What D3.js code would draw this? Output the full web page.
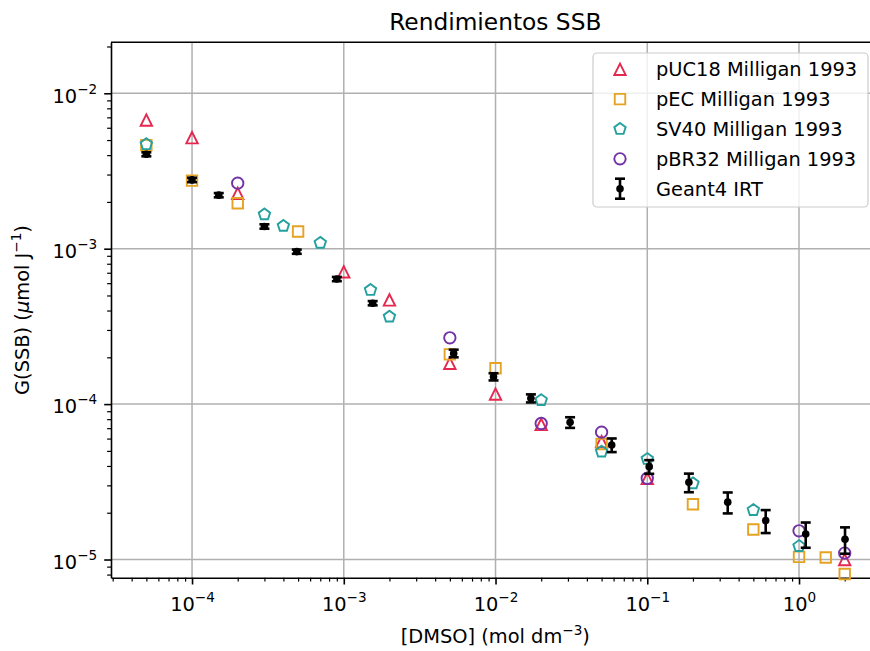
<!DOCTYPE html>
<html>
<head>
<meta charset="utf-8">
<script src="https://cdn.jsdelivr.net/npm/d3@7"></script>
<style>
  html, body { margin: 0; padding: 0; background: #fff; }
  svg text { font-family: "DejaVu Sans", sans-serif; fill: #000; }
</style>
</head>
<body>
<svg id="chart" width="870" height="651"></svg>
<script>
// ---------------- data ----------------
const pUC18X = [5e-5, 1e-4, 2e-4, 1e-3, 2e-3, 5e-3, 1e-2, 2e-2, 5e-2, 0.1, 2];
const pUC18Y = [6.73e-3, 5.18e-3, 2.27e-3, 7.1e-4, 4.68e-4, 1.83e-4, 1.16e-4, 7.4e-5, 5.73e-5, 3.33e-5, 1.0e-5];

const pECX = [5e-5, 1e-4, 2e-4, 5e-4, 5e-3, 1e-2, 5e-2, 0.2, 0.5, 1, 1.5, 2];
const pECY = [4.64e-3, 2.74e-3, 1.96e-3, 1.29e-3, 2.09e-4, 1.70e-4, 5.54e-5, 2.27e-5, 1.56e-5, 1.04e-5, 1.03e-5, 8.07e-6];

const sv40X = [5e-5, 3e-4, 4e-4, 7e-4, 1.5e-3, 2e-3, 2e-2, 5e-2, 0.1, 0.2, 0.5, 1];
const sv40Y = [4.7e-3, 1.66e-3, 1.40e-3, 1.09e-3, 5.42e-4, 3.65e-4, 1.06e-4, 4.94e-5, 4.43e-5, 3.09e-5, 2.08e-5, 1.22e-5];

const pBR32X = [2e-4, 5e-3, 2e-2, 5e-2, 0.1, 1, 2];
const pBR32Y = [2.64e-3, 2.67e-4, 7.5e-5, 6.6e-5, 3.33e-5, 1.53e-5, 1.10e-5];

const g4X = [5e-5, 1e-4, 1.5e-4, 3e-4, 4.9e-4, 9e-4, 1.55e-3, 5.3e-3, 9.7e-3, 1.71e-2, 3.1e-2, 5.83e-2, 0.103, 0.188, 0.339, 0.603, 1.107, 2.01];
const g4Y = [4.05e-3, 2.77e-3, 2.21e-3, 1.39e-3, 9.57e-4, 6.38e-4, 4.46e-4, 2.12e-4, 1.5e-4, 1.09e-4, 7.63e-5, 5.46e-5, 3.96e-5, 3.14e-5, 2.34e-5, 1.78e-5, 1.46e-5, 1.35e-5];
const g4Err = [1.2e-4, 0.9e-4, 0.7e-4, 0.45e-4, 0.3e-4, 0.2e-4, 0.14e-4, 0.12e-4, 0.08e-4, 0.065e-4, 0.6e-5, 0.55e-5, 0.4e-5, 0.43e-5, 0.36e-5, 0.3e-5, 0.27e-5, 0.26e-5];

const xMajorExp = [-4, -3, -2, -1, 0];
const yMajorExp = [-5, -4, -3, -2];
const xDomain = [Math.pow(10, -4.534), Math.pow(10, 0.531)];
const yDomain = [Math.pow(10, -5.117), Math.pow(10, -1.672)];

const legendLabels = ["pUC18 Milligan 1993", "pEC Milligan 1993", "SV40 Milligan 1993", "pBR32 Milligan 1993", "Geant4 IRT"];
const titleText = "Rendimientos SSB";

// ---------------- layout ----------------
const L = 111, R = 879.6, T = 42.3, B = 577.7;
const svg = d3.select("#chart");
const x = d3.scaleLog().domain(xDomain).range([L, R]);
const y = d3.scaleLog().domain(yDomain).range([B, T]);

const colors = { red: "#e5284f", orange: "#e5a324", teal: "#24a19f", purple: "#7232a4" };

function minorTicks(domain) {
  const out = [];
  const lo = Math.floor(Math.log10(domain[0])), hi = Math.ceil(Math.log10(domain[1]));
  for (let e = lo; e <= hi; e++) for (let m = 2; m <= 9; m++) {
    const v = m * Math.pow(10, e);
    if (v >= domain[0] && v <= domain[1]) out.push(v);
  }
  return out;
}

// grid
const grid = svg.append("g");
xMajorExp.forEach(e => grid.append("line")
  .attr("x1", x(Math.pow(10, e))).attr("x2", x(Math.pow(10, e)))
  .attr("y1", T).attr("y2", B).attr("stroke", "#b0b0b0").attr("stroke-width", 1.5));
yMajorExp.forEach(e => grid.append("line")
  .attr("x1", L).attr("x2", R)
  .attr("y1", y(Math.pow(10, e))).attr("y2", y(Math.pow(10, e)))
  .attr("stroke", "#b0b0b0").attr("stroke-width", 1.5));

// axes
function supLabel(sel, exp, size) {
  sel.text(null);
  sel.append("tspan").text("10");
  sel.append("tspan").attr("dy", -9).attr("font-size", size * 0.7).text("\u2212" + Math.abs(exp)).filter(() => exp >= 0).text(String(exp));
}

const xAxis = d3.axisBottom(x).tickValues(xMajorExp.map(e => Math.pow(10, e)))
  .tickSize(6.8).tickSizeOuter(0).tickPadding(6);
const gx = svg.append("g").attr("transform", `translate(0,${B})`).call(xAxis);
gx.selectAll(".tick text").attr("font-size", 19.4).attr("dy", "1.05em")
  .each(function(d) { supLabel(d3.select(this), Math.round(Math.log10(d)), 19.4); });
svg.append("g").attr("transform", `translate(0,${B})`)
  .call(d3.axisBottom(x).tickValues(minorTicks(xDomain)).tickSize(3.9).tickSizeOuter(0).tickFormat(""))
  .call(g => g.select(".domain").remove())
  .selectAll("line").attr("stroke-width", 1.2);

const yAxis = d3.axisLeft(y).tickValues(yMajorExp.map(e => Math.pow(10, e)))
  .tickSize(6.8).tickSizeOuter(0).tickPadding(7);
const gy = svg.append("g").attr("transform", `translate(${L},0)`).call(yAxis);
gy.selectAll(".tick text").attr("font-size", 19.4).attr("dy", "0.45em")
  .each(function(d) { supLabel(d3.select(this), Math.round(Math.log10(d)), 19.4); });
svg.append("g").attr("transform", `translate(${L},0)`)
  .call(d3.axisLeft(y).tickValues(minorTicks(yDomain)).tickSize(3.9).tickSizeOuter(0).tickFormat(""))
  .call(g => g.select(".domain").remove())
  .selectAll("line").attr("stroke-width", 1.2);

[gx, gy].forEach(g => {
  g.select(".domain").attr("stroke-width", 1.6);
  g.selectAll(".tick line").attr("stroke-width", 1.6);
});
svg.append("line").attr("x1", L).attr("x2", R).attr("y1", T).attr("y2", T)
  .attr("stroke", "#000").attr("stroke-width", 1.6);
svg.append("line").attr("x1", R).attr("x2", R).attr("y1", T).attr("y2", B)
  .attr("stroke", "#000").attr("stroke-width", 1.6);

// ---------------- markers ----------------
const S = 5.7;
const shapes = {
  tri: (s) => `M0,${-s}L${s},${s}L${-s},${s}Z`,
  sq: (s) => { const h = s * 0.92; return `M${-h},${-h}H${h}V${h}H${-h}Z`; },
  pent: (s) => {
    const r = s * 1.05; let p = "";
    for (let k = 0; k < 5; k++) {
      const a = -Math.PI / 2 + k * 2 * Math.PI / 5;
      p += (k ? "L" : "M") + (r * Math.cos(a)).toFixed(2) + "," + (r * Math.sin(a)).toFixed(2);
    }
    return p + "Z";
  },
  circ: (s) => `M${s},0A${s},${s} 0 1 1 ${-s},0A${s},${s} 0 1 1 ${s},0Z`
};

const series = [
  { xs: pUC18X, ys: pUC18Y, shape: "tri", color: colors.red },
  { xs: pECX, ys: pECY, shape: "sq", color: colors.orange },
  { xs: sv40X, ys: sv40Y, shape: "pent", color: colors.teal },
  { xs: pBR32X, ys: pBR32Y, shape: "circ", color: colors.purple }
];

const plot = svg.append("g");
series.forEach(s => {
  plot.append("g").selectAll("path").data(s.xs.map((v, i) => [v, s.ys[i]])).join("path")
    .attr("transform", d => `translate(${x(d[0])},${y(d[1])})`)
    .attr("d", shapes[s.shape](S))
    .attr("fill", "none").attr("stroke", s.color).attr("stroke-width", 1.9);
});

// Geant4 error bars
const g4 = g4X.map((v, i) => ({ x: v, y: g4Y[i], e: g4Err[i] }));
const eg = plot.append("g").attr("stroke", "#000").attr("stroke-width", 2.6);
g4.forEach(d => {
  const px = x(d.x), y1 = y(d.y + d.e), y2 = y(d.y - d.e);
  eg.append("line").attr("x1", px).attr("x2", px).attr("y1", y1).attr("y2", y2);
  eg.append("line").attr("x1", px - 5).attr("x2", px + 5).attr("y1", y1).attr("y2", y1);
  eg.append("line").attr("x1", px - 5).attr("x2", px + 5).attr("y1", y2).attr("y2", y2);
});
plot.append("g").selectAll("circle").data(g4).join("circle")
  .attr("cx", d => x(d.x)).attr("cy", d => y(d.y)).attr("r", 3.8).attr("fill", "#000");

// ---------------- legend ----------------
const lg = svg.append("g");
lg.append("rect").attr("x", 593).attr("y", 53).attr("width", 275).attr("height", 154)
  .attr("rx", 4).attr("fill", "#fff").attr("fill-opacity", 0.8)
  .attr("stroke", "#cccccc").attr("stroke-width", 1.2);
legendLabels.forEach((lab, i) => {
  const cy = 69.3 + i * 29.85;
  if (i < 4) {
    lg.append("path").attr("transform", `translate(620,${cy})`).attr("d", shapes[series[i].shape](S))
      .attr("fill", "none").attr("stroke", series[i].color).attr("stroke-width", 1.9);
  } else {
    const e = lg.append("g").attr("stroke", "#000").attr("stroke-width", 2.6);
    e.append("line").attr("x1", 620).attr("x2", 620).attr("y1", cy - 10).attr("y2", cy + 10);
    e.append("line").attr("x1", 615).attr("x2", 625).attr("y1", cy - 10).attr("y2", cy - 10);
    e.append("line").attr("x1", 615).attr("x2", 625).attr("y1", cy + 10).attr("y2", cy + 10);
    lg.append("circle").attr("cx", 620).attr("cy", cy).attr("r", 3.8).attr("fill", "#000");
  }
  lg.append("text").attr("x", 656).attr("y", cy).attr("dy", "0.36em")
    .attr("font-size", 19.4).text(lab);
});

// ---------------- titles ----------------
svg.append("text").attr("x", (L + R) / 2).attr("y", 30).attr("text-anchor", "middle")
  .attr("font-size", 23.3).text(titleText);

const xl = svg.append("text").attr("x", (L + R) / 2).attr("y", 643).attr("text-anchor", "middle")
  .attr("font-size", 19.4);
xl.append("tspan").text("[DMSO] (mol dm");
xl.append("tspan").attr("dy", -8).attr("font-size", 13.6).text("\u22123");
xl.append("tspan").attr("dy", 8).text(")");

const yl = svg.append("text").attr("transform", `translate(29,${(T + B) / 2}) rotate(-90)`)
  .attr("text-anchor", "middle").attr("font-size", 19.4);
yl.append("tspan").text("G(SSB) (");
yl.append("tspan").attr("font-style", "italic").text("\u03bc");
yl.append("tspan").text("mol J");
yl.append("tspan").attr("dy", -8).attr("font-size", 13.6).text("\u22121");
yl.append("tspan").attr("dy", 8).text(")");
</script>
</body>
</html>
